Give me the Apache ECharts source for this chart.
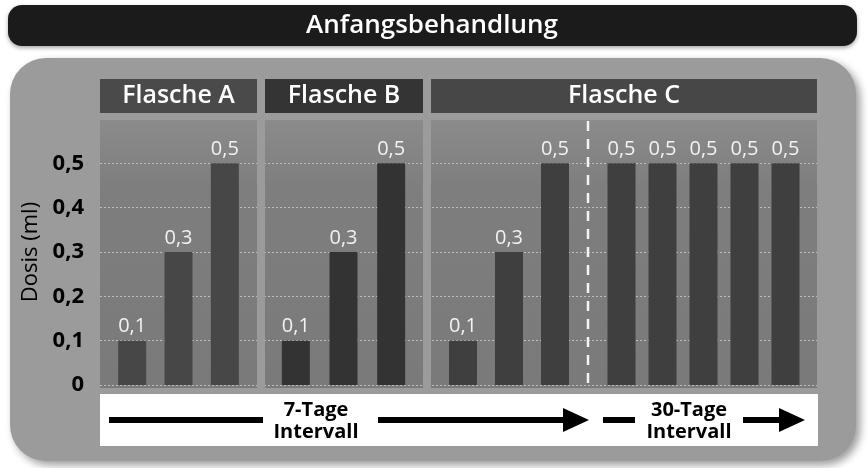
<!DOCTYPE html>
<html>
<head>
<meta charset="utf-8">
<script src="https://cdn.jsdelivr.net/npm/echarts@6/dist/echarts.min.js"></script>
<style>
  html, body { margin: 0; padding: 0; background: #fff; }
  #chart { width: 868px; height: 468px; }
</style>
</head>
<body>
<div id="chart"></div>
<script>
// Daten
const doseSteps = ['1. Dosis', '2. Dosis', '3. Dosis']
const maintenanceSteps = ['4. Dosis', '5. Dosis', '6. Dosis', '7. Dosis', '8. Dosis']
const flascheA = [0.1, 0.3, 0.5]
const flascheB = [0.1, 0.3, 0.5]
const flascheC7 = [0.1, 0.3, 0.5]
const flascheC30 = [0.5, 0.5, 0.5, 0.5, 0.5]
const yTicks = [0, 0.1, 0.2, 0.3, 0.4, 0.5]

const FONT = '"Open Sans", "DejaVu Sans", sans-serif'
const fmt = v => (v === 0 ? '0' : v.toFixed(1).replace('.', ','))

const plotTop = 119, plotH = 266
// Plotbereiche: Hintergrund + je Flasche ein Grid
const grids = [
  { left: 100, top: plotTop, width: 717, height: plotH },
  { left: 109, top: plotTop, width: 139, height: plotH },
  { left: 272, top: plotTop, width: 143, height: plotH },
  { left: 440, top: plotTop, width: 138, height: plotH },
  { left: 601, top: plotTop, width: 205, height: plotH }
]

const hiddenY = i => ({
  type: 'value', gridIndex: i, min: 0, max: 0.6, interval: 0.1, show: false
})
const catX = (i, data) => ({
  type: 'category', gridIndex: i, data: data, show: false
})

const barSeries = (i, data, color) => ({
  type: 'bar',
  xAxisIndex: i,
  yAxisIndex: i,
  data: data,
  barWidth: 28,
  z: 6,
  itemStyle: { color: color },
  label: {
    show: true,
    position: 'top',
    distance: 4,
    color: '#f2f2f2',
    fontSize: 20,
    fontWeight: 500,
    fontFamily: FONT,
    formatter: p => fmt(p.value)
  }
})

const panelFill = {
  type: 'linear', x: 0, y: 0, x2: 0, y2: 1,
  colorStops: [
    { offset: 0, color: '#8b8b8b' },
    { offset: 0.25, color: '#7e7e7e' },
    { offset: 1, color: '#7a7a7a' }
  ]
}

const header = (x, w, text, color) => [
  { type: 'rect', z: 2, shape: { x: x, y: 79, width: w, height: 34 }, style: { fill: color } },
  { type: 'text', z: 3, x: x + w / 2, y: 96,
    style: { text: text, fill: '#fff', font: '600 25px ' + FONT,
      textAlign: 'center', textVerticalAlign: 'middle', align: 'center', verticalAlign: 'middle' } }
]
const panel = (x, w) => ({
  type: 'rect', z: 1, shape: { x: x, y: 120, width: w, height: 268 }, style: { fill: panelFill }
})
const label = (x, y, text) => ({
  type: 'text', z: 8, x: x, y: y,
  style: { text: text, fill: '#000', font: 'bold 20px ' + FONT,
    textAlign: 'center', textVerticalAlign: 'middle', align: 'center', verticalAlign: 'middle' }
})
const bar = (x, y, w, h) => ({ type: 'rect', z: 8, shape: { x: x, y: y, width: w, height: h }, style: { fill: '#000' } })
const head = (x, y) => ({ type: 'polygon', z: 8, shape: { points: [[x, y - 12], [x + 26, y], [x, y + 12]] }, style: { fill: '#000' } })

const chart = echarts.init(document.getElementById('chart'))
chart.setOption({
  animation: false,
  grid: grids,
  xAxis: [
    { type: 'value', gridIndex: 0, show: false, min: 0, max: 1 },
    catX(1, doseSteps), catX(2, doseSteps), catX(3, doseSteps), catX(4, maintenanceSteps)
  ],
  yAxis: [
    {
      type: 'value', gridIndex: 0, min: 0, max: 0.6, interval: 0.1, z: 3,
      name: 'Dosis (ml)',
      nameLocation: 'middle',
      nameGap: 57,
      nameTextStyle: { color: '#000', fontSize: 22, fontFamily: FONT },
      axisLine: { show: false },
      axisTick: { show: false },
      axisLabel: {
        margin: 16,
        color: '#000',
        fontSize: 22,
        fontWeight: 'bold',
        fontFamily: FONT,
        formatter: v => (yTicks.indexOf(Math.round(v * 10) / 10) >= 0 ? fmt(v) : '')
      },
      splitLine: {
        show: true,
        lineStyle: {
          color: ['#bdbdbd', '#bdbdbd', '#bdbdbd', '#bdbdbd', '#bdbdbd', '#bdbdbd', 'rgba(0,0,0,0)'],
          type: [2, 2],
          width: 1
        }
      }
    },
    hiddenY(1), hiddenY(2), hiddenY(3), hiddenY(4)
  ],
  series: [
    barSeries(1, flascheA, '#474747'),
    barSeries(2, flascheB, '#333333'),
    barSeries(3, flascheC7, '#3f3f3f'),
    barSeries(4, flascheC30, '#3f3f3f')
  ],
  graphic: [
    // Titelleiste
    { type: 'rect', z: 0, shape: { x: 8, y: 5, width: 849, height: 41, r: 14 },
      style: { fill: '#1b1b1b', shadowBlur: 4, shadowColor: 'rgba(0,0,0,0.35)', shadowOffsetY: 2 } },
    { type: 'text', z: 1, x: 432, y: 26,
      style: { text: 'Anfangsbehandlung', fill: '#fff', font: '600 26px ' + FONT,
        textAlign: 'center', textVerticalAlign: 'middle', align: 'center', verticalAlign: 'middle' } },
    // grauer Hintergrund
    { type: 'rect', z: 0, shape: { x: 10, y: 58, width: 846, height: 403, r: 36 },
      style: { fill: '#9b9b9b', shadowBlur: 8, shadowColor: 'rgba(0,0,0,0.4)', shadowOffsetX: 4, shadowOffsetY: 4 } },
    panel(100, 157), panel(265, 158), panel(431, 386),
    ...header(100, 157, 'Flasche A', '#4a4a4a'),
    ...header(265, 158, 'Flasche B', '#343434'),
    ...header(431, 386, 'Flasche C', '#474747'),
    // Trennstreifen zwischen den Flaschen
    { type: 'rect', z: 5, shape: { x: 257, y: 116, width: 8, height: 274 }, style: { fill: '#9b9b9b' } },
    { type: 'rect', z: 5, shape: { x: 423, y: 116, width: 8, height: 274 }, style: { fill: '#9b9b9b' } },
    // gestrichelte Linie 7 / 30 Tage
    { type: 'line', z: 5, shape: { x1: 588, y1: 121, x2: 588, y2: 385 },
      style: { stroke: '#f4f4f4', lineWidth: 2.5, lineDash: [10, 8] } },
    // Intervall-Leiste
    { type: 'rect', z: 7, shape: { x: 100, y: 394, width: 718, height: 52 }, style: { fill: '#fff' } },
    bar(109, 417, 154, 6),
    label(316, 410, '7-Tage'), label(316, 432, 'Intervall'),
    bar(378, 417, 187, 6), head(563, 420),
    bar(603, 417, 32, 6),
    label(689, 410, '30-Tage'), label(689, 432, 'Intervall'),
    bar(743, 417, 36, 6), head(779, 420)
  ]
})
</script>
</body>
</html>
